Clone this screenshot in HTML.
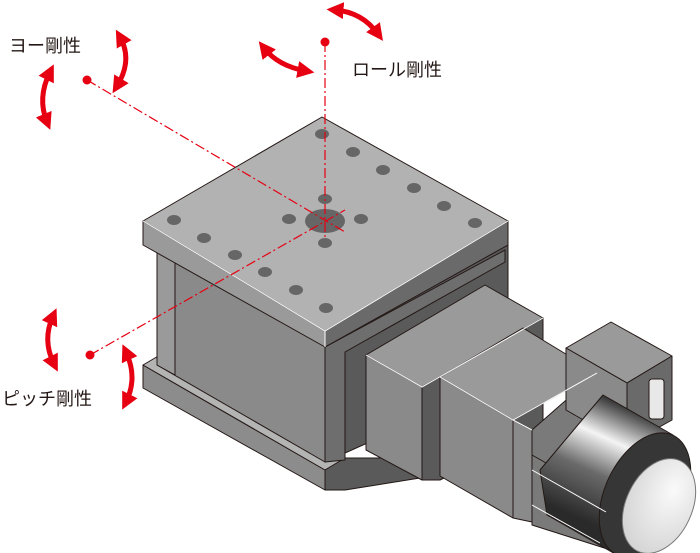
<!DOCTYPE html>
<html><head><meta charset="utf-8"><style>
html,body{margin:0;padding:0;background:#fff;}
svg{display:block;}
text{font-family:"Liberation Sans","Noto Sans CJK JP",sans-serif;font-size:18px;fill:#231815;}
</style></head><body>
<svg width="700" height="553" viewBox="0 0 700 553" xmlns="http://www.w3.org/2000/svg">
<defs>
<marker id="ah" viewBox="0 0 10 10" refX="5" refY="5" markerWidth="3.4" markerHeight="3.4" orient="auto-start-reverse" markerUnits="strokeWidth">
<path d="M0,0 L10,5 L0,10 z" fill="#e60012"/></marker>
<linearGradient id="cyl" x1="610" y1="400" x2="560" y2="510" gradientUnits="userSpaceOnUse">
<stop offset="0" stop-color="#3a3a3a"/><stop offset="0.3" stop-color="#f4f4f4"/><stop offset="0.6" stop-color="#6a6a6a"/><stop offset="1" stop-color="#2a2a2a"/></linearGradient>
<radialGradient id="cap" cx="0.6" cy="0.3" r="0.8"><stop offset="0" stop-color="#fafafa"/><stop offset="1" stop-color="#d0d0d0"/></radialGradient>
</defs>
<g stroke="#231815" stroke-width="1" stroke-linejoin="round">
<!-- base -->
<polygon points="143,365 325,470 345,460 345,478 325,490 143,388" fill="#8c8c8c"/>
<polygon points="143,365 160,355 345,460 325,470" fill="#b4b4b4"/>
<polygon points="325,470 345,458 420,458 420,478 345,490 325,490" fill="#5a5a5a"/>
<!-- body -->
<polygon points="157,248 325,345 325,462 157,365" fill="#8a8a8a"/>
<polygon points="157,248 175,258 175,375 157,365" fill="#9a9a9a"/>
<polygon points="325,345 508,245 508,380 325,462" fill="#5a5a5a"/>
<polygon points="325,347 505,250 505,262 345,352 345,460 325,462" fill="#6e6e6e"/>
<!-- top plate -->
<polygon points="143,221 325,331 325,347 143,245" fill="#9a9a9a"/>
<polygon points="325,331 508,221 508,245 325,347" fill="#6a6a6a"/>
<polygon points="322,117 143,221 325,331 508,221" fill="#b2b2b2"/>
</g>
<g stroke="#fff" stroke-width="1" fill="none"><polyline points="143,221 325,331 508,221"/><line x1="325" y1="331" x2="325" y2="347"/></g>
<g fill="#666">
<ellipse cx="322" cy="134" rx="7" ry="5"/><ellipse cx="353" cy="152" rx="7" ry="5"/><ellipse cx="383" cy="170" rx="7" ry="5"/><ellipse cx="414" cy="188" rx="7" ry="5"/><ellipse cx="444" cy="206" rx="7" ry="5"/><ellipse cx="475" cy="223" rx="7" ry="5"/>
<ellipse cx="174" cy="220" rx="7" ry="5"/><ellipse cx="204" cy="238" rx="7" ry="5"/><ellipse cx="235" cy="255" rx="7" ry="5"/><ellipse cx="265" cy="272" rx="7" ry="5"/><ellipse cx="296" cy="290" rx="7" ry="5"/><ellipse cx="326" cy="308" rx="7" ry="5"/>
<ellipse cx="289" cy="219" rx="7" ry="5"/><ellipse cx="361" cy="219" rx="7" ry="5"/><ellipse cx="325" cy="199" rx="7" ry="5"/><ellipse cx="325" cy="243" rx="7" ry="5"/>
<ellipse cx="325" cy="221" rx="20" ry="12"/>
</g>
<g stroke="#231815" stroke-width="1" stroke-linejoin="round">
<!-- motor bracket -->
<polygon points="366,355 422,387 422,480 366,450" fill="#8a8a8a"/>
<polygon points="366,355 485,285 543,318 422,387" fill="#9a9a9a"/>
<polygon points="422,387 543,318 543,430 440,480 422,480" fill="#5a5a5a"/>
<polygon points="440,377 513,420 513,518 440,476" fill="#8a8a8a"/>
<polygon points="440,377 523,328 597,373 513,420" fill="#9a9a9a"/>
<polygon points="513,420 532,430 532,522 513,518" fill="#8a8a8a"/>
<polygon points="532,430 597,373 612,382 612,540 532,522" fill="#7a7a7a"/>
<!-- connector box -->
<polygon points="566,348 611,322 672,356 627,383" fill="#9a9a9a"/>
<polygon points="627,383 672,356 672,420 627,445" fill="#6a6a6a"/>
<polygon points="566,348 627,383 627,445 566,410" fill="#8a8a8a"/>
<rect x="649" y="379" width="15" height="40" rx="3" fill="#e8e8e8"/>
<!-- lower block under cylinder -->
<polygon points="532,455 620,505 620,553 532,525" fill="#7a7a7a"/>
<!-- cylinder -->
<polygon points="603,395 673,435 617,555 547,515 540,470" fill="url(#cyl)"/>
<ellipse cx="645" cy="495" rx="40" ry="66" transform="rotate(25 645 495)" fill="#363636"/>
<ellipse cx="659" cy="506" rx="33" ry="50" transform="rotate(25 659 506)" fill="url(#cap)" stroke="#777"/>
</g>
<g stroke="#fff" stroke-width="1" fill="none">
<polyline points="366,355 422,387 543,318"/><polyline points="440,377 513,420 597,373"/>
<line x1="532" y1="470" x2="606" y2="512"/><line x1="532" y1="505" x2="600" y2="543"/>
<line x1="513" y1="420" x2="532" y2="430"/>
</g>
<!-- red lines -->
<g stroke="#e60012" stroke-width="1.2" fill="none" stroke-dasharray="10,3,2,3">
<line x1="325" y1="42" x2="325" y2="238"/>
<line x1="87" y1="80" x2="345" y2="232"/>
<line x1="90" y1="355" x2="345" y2="210"/>
</g>
<g fill="#e60012"><circle cx="325" cy="42" r="4.5"/><circle cx="87" cy="80" r="4.5"/><circle cx="90" cy="355" r="4.5"/></g>
<g stroke="#e60012" stroke-width="5" fill="none" marker-start="url(#ah)" marker-end="url(#ah)">
<path d="M335,10 Q362,12 378,34"/>
<path d="M264,48 Q278,66 306,71"/>
<path d="M120,37 Q133,60 117,86"/>
<path d="M50,72 Q37,98 47,122"/>
<path d="M53,316 Q42,340 54,364"/>
<path d="M126,352 Q138,378 126,402"/>
</g>
<text x="9" y="52">ヨー剛性</text>
<text x="352" y="76">ロール剛性</text>
<text x="2" y="405">ピッチ剛性</text>
</svg>
</body></html>
